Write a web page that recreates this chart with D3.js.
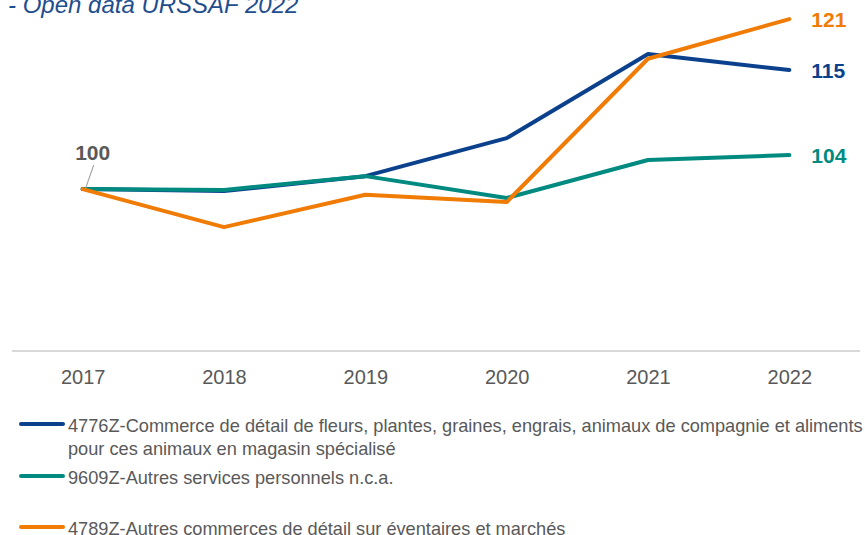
<!DOCTYPE html>
<html>
<head>
<meta charset="utf-8">
<script src="https://cdn.jsdelivr.net/npm/d3@7"></script>
<style>
    body { margin: 0; background: #fff; }
    #chart-container { width: 865px; height: 535px; }
    text { font-family: "Liberation Sans", Arial, sans-serif; }
</style>
</head>
<body>
<div id="chart-container"></div>
<script>
// Values (index base 100 in 2017)
const years = ['2017', '2018', '2019', '2020', '2021', '2022'];
const fleurs = [100, 99.75, 101.6, 106.3, 116.7, 114.7];
const servicesPerso = [100, 99.9, 101.6, 98.9, 103.6, 104.2];
const marches = [100, 95.3, 99.3, 98.4, 116.1, 121];
const endLabels = ['115', '104', '121'];
const startLabel = '100';
const seriesNames = [
    ['4776Z-Commerce de détail de fleurs, plantes, graines, engrais, animaux de compagnie et aliments', 'pour ces animaux en magasin spécialisé'],
    ['9609Z-Autres services personnels n.c.a.'],
    ['4789Z-Autres commerces de détail sur éventaires et marchés']
];
const titleText = '- Open data URSSAF 2022';

const colors = ['#0B418C', '#008A80', '#F07B05'];
const grey = '#595959';

const width = 865, height = 535;

const svg = d3.select('#chart-container').append('svg')
    .attr('width', width)
    .attr('height', height);

const x = d3.scalePoint()
    .domain(years)
    .range([12, 860])
    .padding(0.5);

const y = d3.scaleLinear()
    .domain([80, 125])
    .range([351, 351 - 45 * 8.095]);

const series = [fleurs, servicesPerso, marches];

// title (partly cut off at the top, as in the source)
svg.append('text')
    .attr('x', 8)
    .attr('y', 13)
    .attr('font-size', '24px')
    .attr('font-style', 'italic')
    .attr('fill', '#1F4E8F')
    .text(titleText);

// x axis
const xAxis = d3.axisBottom(x).tickSize(0).tickPadding(0);
const xAxisGroup = svg.append('g')
    .attr('transform', `translate(0,${y(80)})`)
    .call(xAxis);
xAxisGroup.select('.domain')
    .attr('d', 'M12,0H860')
    .attr('stroke', '#D9D9D9')
    .attr('stroke-width', 2);
xAxisGroup.selectAll('text')
    .attr('dy', 0)
    .attr('y', 33)
    .attr('font-size', '20px')
    .attr('fill', grey)
    .style('font-family', '"Liberation Sans", Arial, sans-serif');

// lines
const line = d3.line()
    .x((d, i) => x(years[i]))
    .y(d => y(d));

svg.selectAll('.series')
    .data(series)
    .enter()
    .append('path')
    .attr('class', 'series')
    .attr('fill', 'none')
    .attr('stroke', (d, i) => colors[i])
    .attr('stroke-width', 4)
    .attr('stroke-linejoin', 'round')
    .attr('stroke-linecap', 'round')
    .attr('d', line);

// start label with leader line
svg.append('line')
    .attr('x1', x(years[0]) + 3)
    .attr('y1', y(100) - 1)
    .attr('x2', x(years[0]) + 11)
    .attr('y2', y(100) - 24)
    .attr('stroke', '#A6A6A6')
    .attr('stroke-width', 1.2);

svg.append('text')
    .attr('x', x(years[0]) + 10)
    .attr('y', y(100) - 29)
    .attr('text-anchor', 'middle')
    .attr('font-size', '21px')
    .attr('font-weight', 'bold')
    .attr('fill', grey)
    .text(startLabel);

// end labels
svg.selectAll('.end-label')
    .data(series)
    .enter()
    .append('text')
    .attr('class', 'end-label')
    .attr('x', x(years[years.length - 1]) + 22)
    .attr('y', d => y(d[d.length - 1]) + 8)
    .attr('font-size', '21px')
    .attr('font-weight', 'bold')
    .attr('fill', (d, i) => colors[i])
    .text((d, i) => endLabels[i]);

// legend
const legendTops = [424, 476, 527];
const legend = svg.selectAll('.legend-item')
    .data(seriesNames)
    .enter()
    .append('g')
    .attr('class', 'legend-item')
    .attr('transform', (d, i) => `translate(0,${legendTops[i]})`);

legend.append('line')
    .attr('x1', 21)
    .attr('x2', 63)
    .attr('y1', 0)
    .attr('y2', 0)
    .attr('stroke', (d, i) => colors[i])
    .attr('stroke-width', 4)
    .attr('stroke-linecap', 'round');

legend.append('text')
    .attr('x', 68)
    .attr('y', 8)
    .attr('font-size', '18.2px')
    .attr('fill', grey)
    .selectAll('tspan')
    .data(d => d)
    .enter()
    .append('tspan')
    .attr('x', 68)
    .attr('dy', (d, i) => i === 0 ? 0 : 22.5)
    .text(d => d);
</script>
</body>
</html>
